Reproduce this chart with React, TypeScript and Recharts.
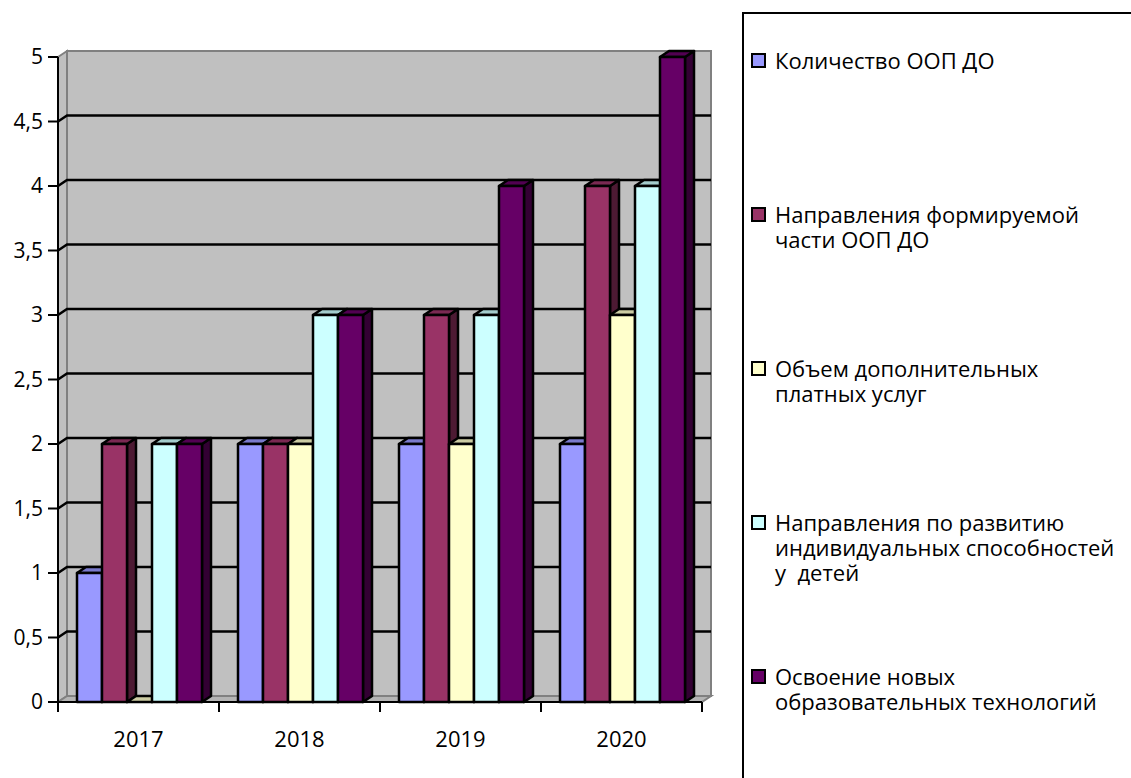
import { BarChart, Bar, XAxis, YAxis, CartesianGrid, Legend } from "recharts";

const years = ["2017", "2018", "2019", "2020"];
const seriesNames = [
  "Количество ООП ДО",
  "Направления формируемой\nчасти ООП ДО",
  "Объем дополнительных\nплатных услуг",
  "Направления по развитию\nиндивидуальных способностей\nу  детей",
  "Освоение новых\nобразовательных технологий",
];
const kolichestvo = [1, 2, 2, 2];
const formiruemoy = [2, 2, 3, 4];
const platnye = [0, 2, 2, 3];
const razvitie = [2, 3, 3, 4];
const tehnologii = [2, 3, 4, 5];
const yTicks = [0, 0.5, 1, 1.5, 2, 2.5, 3, 3.5, 4, 4.5, 5];

const colors = ["#9999FF", "#993366", "#FFFFCC", "#CCFFFF", "#660066"];
const keys = ["s0", "s1", "s2", "s3", "s4"];
const seriesValues = [kolichestvo, formiruemoy, platnye, razvitie, tehnologii];

const data = years.map((year, i) => {
  const row: Record<string, string | number> = { year };
  keys.forEach((k, j) => (row[k] = seriesValues[j][i]));
  return row;
});

const FONT = "'Open Sans', 'Noto Sans', sans-serif";
const W = 1131;
const H = 778;
const PLOT_LEFT = 58;
const PLOT_RIGHT = 702;
const PLOT_TOP = 57;
const PLOT_BOTTOM = 702;
const BAND = (PLOT_RIGHT - PLOT_LEFT) / years.length;
// 3d depth
const DX = 9;
const DY = 6;

const shade = (hex: string, f: number) => {
  const n = parseInt(hex.slice(1), 16);
  const r = Math.round(((n >> 16) & 255) * f);
  const g = Math.round(((n >> 8) & 255) * f);
  const b = Math.round((n & 255) * f);
  return `rgb(${r},${g},${b})`;
};

// back wall, side wall and floor (drawn once, at the bottom grid line)
const wall = (props: any) => {
  const { x, y, width, height, y1, key } = props;
  if (Math.abs(y1 - (y + height)) > 1) return <g key={key} />;
  const b = y + height;
  return (
    <g key={key}>
      <rect x={x + DX} y={y - DY} width={width} height={height} fill="#C0C0C0" stroke="#808080" strokeWidth={2} />
      <polygon
        points={`${x},${y} ${x + DX},${y - DY} ${x + DX},${b - DY} ${x},${b}`}
        fill="#C0C0C0"
        stroke="#808080"
        strokeWidth={2}
      />
      <polygon
        points={`${x},${b} ${x + DX},${b - DY} ${x + width + DX},${b - DY} ${x + width},${b}`}
        fill="#B4B4B4"
        stroke="#808080"
        strokeWidth={2}
      />
    </g>
  );
};

const gridLine = (props: any) => {
  const { x1, y1, x2, y, height, key } = props;
  if (Math.abs(y1 - y) < 1 || Math.abs(y1 - (y + height)) < 1) return <g key={key} />;
  return (
    <path
      key={key}
      d={`M${x1},${y1} L${x1 + DX},${y1 - DY} L${x2 + DX},${y1 - DY}`}
      fill="none"
      stroke="#000"
      strokeWidth={2.5}
    />
  );
};

const Bar3D = (props: any) => {
  const { x, y, width, height, fill } = props;
  if (x == null || y == null) return null;
  const w = width;
  const h = Math.max(height, 0);
  return (
    <g stroke="#000" strokeWidth={2.5} strokeLinejoin="round">
      <polygon points={`${x + w},${y} ${x + w + DX},${y - DY} ${x + w + DX},${y + h - DY} ${x + w},${y + h}`} fill={shade(fill, 0.5)} />
      <polygon points={`${x},${y} ${x + DX},${y - DY} ${x + w + DX},${y - DY} ${x + w},${y}`} fill={shade(fill, 0.8)} />
      {h > 0 && <rect x={x} y={y} width={w} height={h} fill={fill} />}
    </g>
  );
};

const XTick = (props: any) => {
  const { x, y, payload, index } = props;
  const half = BAND / 2;
  return (
    <g>
      <line x1={x - half} y1={y} x2={x - half} y2={y + 10} stroke="#000" strokeWidth={2} />
      {index === years.length - 1 && (
        <line x1={x + half} y1={y} x2={x + half} y2={y + 10} stroke="#000" strokeWidth={2} />
      )}
      <text x={x} y={y + 36} textAnchor="middle" dominantBaseline="central" fontFamily={FONT} fontSize={22} fill="#000">
        {payload.value}
      </text>
    </g>
  );
};

const renderLegend = (props: any) => {
  const payload = [...(props.payload || [])].sort(
    (a: any, b: any) => seriesNames.indexOf(a.value) - seriesNames.indexOf(b.value)
  );
  return (
    <div
      style={{
        boxSizing: "border-box",
        width: 420,
        height: 800,
        border: "2px solid #000",
        background: "#fff",
        paddingTop: 34,
        fontFamily: FONT,
        color: "#000",
        textAlign: "left",
      }}
    >
      {payload.map((entry: any) => (
        <div key={entry.value} style={{ height: 154, display: "flex", alignItems: "flex-start" }}>
          <span
            style={{
              display: "inline-block",
              boxSizing: "border-box",
              width: 15,
              height: 15,
              border: "2px solid #000",
              background: entry.color,
              marginLeft: 7,
              marginRight: 9,
              marginTop: 5,
              flex: "none",
            }}
          />
          <span style={{ whiteSpace: "pre-wrap", fontSize: 22, lineHeight: "25px" }}>{entry.value}</span>
        </div>
      ))}
    </div>
  );
};

export default function App() {
  return (
    <div style={{ position: "absolute", left: 0, top: 0, width: W, height: H, overflow: "hidden", background: "#fff" }}>
      <BarChart
        width={W}
        height={H}
        data={data}
        margin={{ top: PLOT_TOP, right: W - PLOT_RIGHT, bottom: 0, left: 0 }}
        barCategoryGap={19}
        barGap={0}
      >
        <CartesianGrid vertical={false} horizontal={wall} />
        <CartesianGrid vertical={false} horizontal={gridLine} />
        <XAxis
          dataKey="year"
          height={H - PLOT_BOTTOM}
          axisLine={{ stroke: "#000", strokeWidth: 2 }}
          tickLine={false}
          tickSize={0}
          tickMargin={0}
          tick={<XTick />}
          interval={0}
        />
        <YAxis
          width={PLOT_LEFT}
          domain={[0, 5]}
          ticks={yTicks}
          interval={0}
          axisLine={{ stroke: "#000", strokeWidth: 2 }}
          tickLine={{ stroke: "#000", strokeWidth: 2 }}
          tickSize={10}
          tickMargin={5}
          tick={{ fill: "#000", fontSize: 21, fontFamily: FONT }}
          tickFormatter={(v: number) => String(v).replace(".", ",")}
        />
        <Legend
          layout="horizontal"
          verticalAlign="middle"
          align="center"
          content={renderLegend}
          wrapperStyle={{ left: 742, top: 12, width: 420, height: 800 }}
        />
        {keys.map((k, i) => (
          <Bar key={k} dataKey={k} name={seriesNames[i]} fill={colors[i]} shape={<Bar3D />} isAnimationActive={false} />
        ))}
      </BarChart>
    </div>
  );
}
